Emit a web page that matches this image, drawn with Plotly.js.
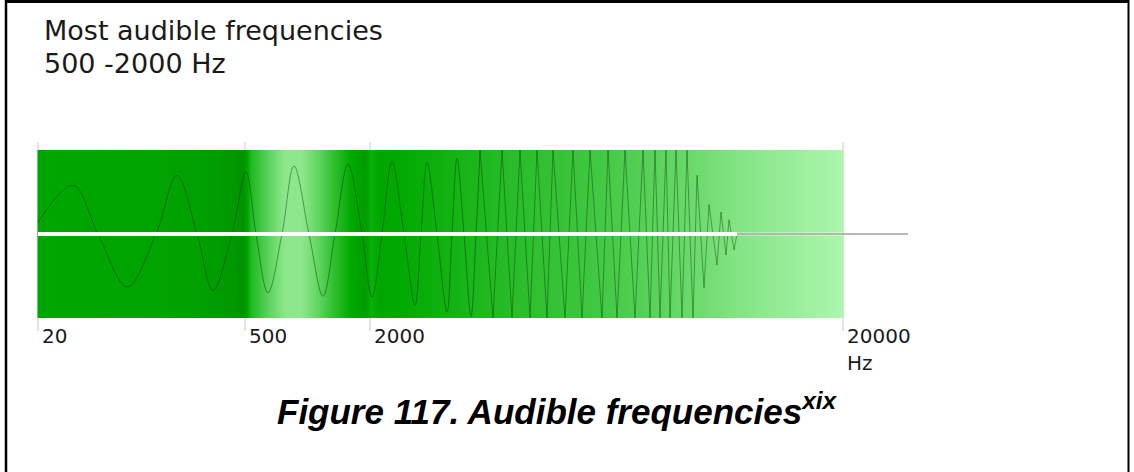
<!DOCTYPE html>
<html>
<head>
<meta charset="utf-8">
<script src="https://cdn.plot.ly/plotly-3.0.1.min.js"></script>
<style>html,body{margin:0;padding:0;background:#fff;}#chart{width:1134px;height:472px;}</style>
</head>
<body>
<div id="chart"></div>
<script>
// ---- data (positions along the band: 0 = 20 Hz edge, 805 = 20000 Hz edge) ----
const titleLines = ["Most audible frequencies", "500 -2000 Hz"];
const captionText = "Figure 117. Audible frequencies";
const captionSup = "xix";
const tickLabels = ["20", "500", "2000", "20000"];
const unitLabel = "Hz";
const tickPos = [0, 207, 332, 805];

// band brightness (0 = darkest green, 1 = lightest) sampled along the band
const bandPos   = [0, 1, 112, 162, 195, 205, 212, 227, 247, 262, 280, 297, 315, 327, 332, 342, 382, 462, 562, 662, 722, 804, 805];
const bandLight = [0.22, 0.22, 0.2, 0.17, 0.1, 0.06, 0.38, 0.58, 0.8, 0.8, 0.62, 0.42, 0.22, 0.15, 0.3, 0.22, 0.28, 0.4, 0.52, 0.68, 0.8, 0.95, 0.95];

// smooth low-frequency part of the wave (position, amplitude)
const smoothPos = [0, 35, 60, 89, 118, 139, 159, 175, 194, 208, 218, 230, 244, 256, 271, 285, 297, 310, 324, 334, 344, 354, 366, 377, 383, 389, 399, 409, 414, 419, 426, 433, 438, 442];
const smoothAmp = [0.14, 0.58, 0, -0.63, 0, 0.70, 0, -0.67, 0, 0.74, 0, -0.70, 0, 0.81, 0, -0.74, 0, 0.83, 0, -0.75, 0, 0.86, 0, -0.85, 0, 0.85, 0, -0.93, 0, 0.90, 0, -0.98, 0, 1.0];

// high-frequency zig-zag part
const zigPos = [442, 455, 464, 474, 482, 492, 499, 509, 515, 527, 535, 544, 552, 564, 570, 579, 587, 597, 605, 612, 617, 622, 628, 632, 638, 644, 649, 655, 659, 666, 671, 679, 683, 688, 691, 696, 699];
const zigAmp = [1, -1, 1, -1, 1, -1, 1, -1, 1, -1, 1, -1, 1, -1, 1, -1, 1, -1, 1, -1, 1, -1, 1, -1, 1, -1, 1, -1, 0.70, -0.64, 0.35, -0.37, 0.26, -0.25, 0.17, -0.19, 0];

// silent tail line
const tailPos = [699, 870];
const tailAmp = [0, 0];
const bandEndPos = 805;

// ---- geometry helpers ----
const W = 1134, H = 472;
const X0PX = 38, PXPERPOS = 1;           // band starts 38px from left
const YC = 234, PXPERAMP = 84;           // centre line and half band height in px
const xRange = [(0 - X0PX) / PXPERPOS, (W - X0PX) / PXPERPOS];
const yRange = [(YC - H) / PXPERAMP, YC / PXPERAMP];
const py2amp = p => (YC - p) / PXPERAMP;
const px2paper = p => p / W;
const py2paper = p => 1 - p / H;

const traces = [];
// gradient band
traces.push({
  type: 'heatmap',
  x: bandPos,
  y: [-0.5, 0.5],
  z: [bandLight, bandLight],
  zmin: 0, zmax: 1,
  zsmooth: 'best',
  showscale: false,
  hoverinfo: 'skip',
  colorscale: [
    [0, 'rgb(0,140,0)'],
    [0.25, 'rgb(0,170,0)'],
    [0.5, 'rgb(62,198,62)'],
    [0.75, 'rgb(130,228,130)'],
    [1, 'rgb(184,250,184)']
  ]
});
// wave
traces.push({
  type: 'scatter', mode: 'lines', x: smoothPos, y: smoothAmp,
  line: {color: 'rgba(0,50,0,0.45)', width: 1, shape: 'spline', smoothing: 1},
  hoverinfo: 'skip'
});
traces.push({
  type: 'scatter', mode: 'lines', x: zigPos, y: zigAmp,
  line: {color: 'rgba(0,60,0,0.42)', width: 1},
  hoverinfo: 'skip'
});
// white centre line while the wave is present
traces.push({
  type: 'scatter', mode: 'lines', x: [smoothPos[0], zigPos[zigPos.length - 1]], y: [0, 0],
  line: {color: '#ffffff', width: 4}, hoverinfo: 'skip'
});
// faint light line in band after wave ends
traces.push({
  type: 'scatter', mode: 'lines', x: [tailPos[0], bandEndPos], y: [0, 0],
  line: {color: 'rgba(255,255,255,0.7)', width: 3}, hoverinfo: 'skip'
});
traces.push({
  type: 'scatter', mode: 'lines', x: tailPos, y: tailAmp,
  line: {color: 'rgb(160,160,160)', width: 1.3}, hoverinfo: 'skip'
});

const shapes = [];
tickPos.forEach(p => shapes.push({
  type: 'line', xref: 'x', yref: 'y', layer: 'below',
  x0: p, x1: p, y0: py2amp(142), y1: py2amp(331),
  line: {color: 'rgb(200,200,200)', width: 1}
}));
// frame
shapes.push({type: 'line', xref: 'paper', yref: 'paper', x0: px2paper(6), x1: px2paper(6), y0: 0, y1: 1, line: {color: '#000', width: 2.5}});
shapes.push({type: 'line', xref: 'paper', yref: 'paper', x0: px2paper(5), x1: px2paper(1129), y0: py2paper(1.5), y1: py2paper(1.5), line: {color: '#000', width: 3}});
shapes.push({type: 'line', xref: 'paper', yref: 'paper', x0: px2paper(1128.5), x1: px2paper(1128.5), y0: 0, y1: 1, line: {color: '#000', width: 2}});

const annotations = [];
titleLines.forEach((t, i) => annotations.push({
  xref: 'paper', yref: 'paper', x: px2paper(42), y: py2paper(13 + 33 * i),
  xanchor: 'left', yanchor: 'top', align: 'left', showarrow: false,
  text: t,
  font: {family: 'DejaVu Sans', size: 27, color: '#1a1a1a'}
}));
tickLabels.forEach((t, i) => annotations.push({
  xref: 'x', yref: 'y', x: tickPos[i], y: py2amp(322), xshift: 2,
  xanchor: 'left', yanchor: 'top', align: 'left', showarrow: false,
  text: t,
  font: {family: 'DejaVu Sans', size: 20, color: '#1a1a1a'}
}));
annotations.push({
  xref: 'x', yref: 'y', x: tickPos[tickPos.length - 1], y: py2amp(349), xshift: 2,
  xanchor: 'left', yanchor: 'top', align: 'left', showarrow: false,
  text: unitLabel,
  font: {family: 'DejaVu Sans', size: 20, color: '#1a1a1a'}
});
annotations.push({
  xref: 'paper', yref: 'paper', x: px2paper(557), y: py2paper(409),
  xanchor: 'center', yanchor: 'middle', showarrow: false,
  text: '<b><i>' + captionText + '<sup>' + captionSup + '</sup></i></b>',
  font: {family: 'Liberation Sans', size: 35, color: '#000'}
});

const layout = {
  width: W, height: H,
  margin: {l: 0, r: 0, t: 0, b: 0},
  paper_bgcolor: '#ffffff', plot_bgcolor: '#ffffff',
  showlegend: false,
  xaxis: {range: xRange, visible: false, fixedrange: true},
  yaxis: {range: yRange, visible: false, fixedrange: true},
  shapes: shapes,
  annotations: annotations
};

Plotly.newPlot('chart', traces, layout, {displayModeBar: false, staticPlot: true});
</script>
</body>
</html>
